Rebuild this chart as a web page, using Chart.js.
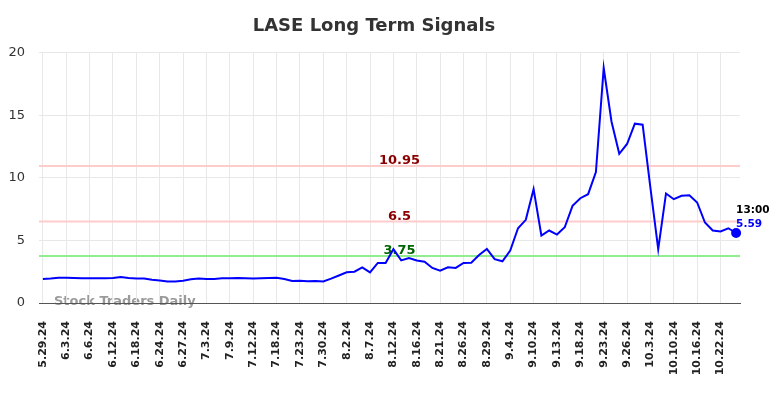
<!DOCTYPE html>
<html>
<head>
<meta charset="utf-8">
<script src="https://cdn.jsdelivr.net/npm/chart.js@4"></script>
<style>
  html, body { margin: 0; padding: 0; background: #fff; }
  #wrap { width: 784px; height: 398px; }
</style>
</head>
<body>
<div id="wrap"><canvas id="signalChart"></canvas></div>
<script>
// trading days, only every third one gets a tick label
const dates = [
    '5.29.24', '5.30.24', '5.31.24', '6.3.24', '6.4.24', '6.5.24', '6.6.24', '6.7.24', '6.10.24',
    '6.12.24', '6.13.24', '6.14.24', '6.18.24', '6.20.24', '6.21.24', '6.24.24', '6.25.24', '6.26.24',
    '6.27.24', '6.28.24', '7.1.24', '7.3.24', '7.5.24', '7.8.24', '7.9.24', '7.10.24', '7.11.24',
    '7.12.24', '7.15.24', '7.16.24', '7.18.24', '7.19.24', '7.22.24', '7.23.24', '7.24.24', '7.26.24',
    '7.30.24', '7.31.24', '8.1.24', '8.2.24', '8.5.24', '8.6.24', '8.7.24', '8.8.24', '8.9.24',
    '8.12.24', '8.13.24', '8.14.24', '8.16.24', '8.19.24', '8.20.24', '8.21.24', '8.22.24', '8.23.24',
    '8.26.24', '8.27.24', '8.28.24', '8.29.24', '8.30.24', '9.3.24', '9.4.24', '9.5.24', '9.6.24',
    '9.10.24', '9.11.24', '9.12.24', '9.13.24', '9.16.24', '9.17.24', '9.18.24', '9.19.24', '9.20.24',
    '9.23.24', '9.24.24', '9.25.24', '9.26.24', '9.27.24', '10.1.24', '10.3.24', '10.4.24', '10.8.24',
    '10.10.24', '10.11.24', '10.14.24', '10.16.24', '10.17.24', '10.18.24', '10.22.24', '10.23.24', '10.24.24'
];

const prices = [
    1.92, 1.95, 2.02, 2.02, 2.00, 1.98, 1.98, 1.97, 1.98,
    2.00, 2.08, 2.00, 1.95, 1.96, 1.85, 1.80, 1.72, 1.72,
    1.78, 1.90, 1.95, 1.92, 1.92, 1.97, 1.97, 2.00, 1.97,
    1.95, 1.97, 2.00, 2.02, 1.92, 1.76, 1.78, 1.74, 1.76,
    1.72, 1.95, 2.20, 2.45, 2.50, 2.85, 2.45, 3.20, 3.20,
    4.30, 3.40, 3.60, 3.40, 3.30, 2.80, 2.58, 2.85, 2.80,
    3.20, 3.22, 3.84, 4.32, 3.50, 3.33, 4.19, 5.97, 6.64,
    9.09, 5.39, 5.79, 5.47, 6.05, 7.76, 8.37, 8.69, 10.45,
    18.77, 14.50, 11.92, 12.70, 14.32, 14.24, 9.20, 4.30, 8.75,
    8.29, 8.56, 8.61, 8.03, 6.43, 5.79, 5.71, 5.97, 5.59
];

const levels = [10.95, 6.5, 3.75];
const levelLineColors = ['#ffcccc', '#ffcccc', '#90ee90'];
const levelTextColors = ['#8b0000', '#8b0000', '#006400'];
const lastTime = '13:00';

Chart.defaults.font.family = "'DejaVu Sans', sans-serif";

const levelsPlugin = {
    id: 'levels',
    beforeDraw(chart) {
        const ctx = chart.ctx;
        const area = chart.chartArea;
        ctx.save();
        ctx.font = 'bold 13px "DejaVu Sans"';
        ctx.fillStyle = 'rgba(120,120,120,0.75)';
        ctx.textBaseline = 'middle';
        ctx.fillText('Stock Traders Daily', area.left + 15, area.bottom - 1);
        ctx.restore();
    },
    beforeDatasetsDraw(chart) {
        const ctx = chart.ctx;
        const area = chart.chartArea;
        const y = chart.scales.y;
        ctx.save();
        levels.forEach((lv, i) => {
            const py = y.getPixelForValue(lv);
            ctx.strokeStyle = levelLineColors[i];
            ctx.lineWidth = 2;
            ctx.beginPath();
            ctx.moveTo(area.left, py);
            ctx.lineTo(area.right, py);
            ctx.stroke();
            ctx.font = 'bold 13px "DejaVu Sans"';
            ctx.fillStyle = levelTextColors[i];
            ctx.textAlign = 'center';
            ctx.textBaseline = 'alphabetic';
            ctx.fillText(String(lv), (area.left + area.right) / 2 + 10, py - 2);
        });
        ctx.restore();
    },
    afterDatasetsDraw(chart) {
        const ctx = chart.ctx;
        const pt = chart.getDatasetMeta(0).data[prices.length - 1];
        ctx.save();
        ctx.textAlign = 'left';
        ctx.textBaseline = 'alphabetic';
        ctx.font = 'bold 10.5px "DejaVu Sans"';
        ctx.fillStyle = '#000';
        ctx.fillText(lastTime, pt.x, pt.y - 20);
        ctx.fillStyle = '#0000ff';
        ctx.fillText(prices[prices.length - 1].toFixed(2), pt.x, pt.y - 6);
        ctx.restore();
    }
};

new Chart(document.getElementById('signalChart'), {
    type: 'line',
    data: {
        labels: dates,
        datasets: [{
            data: prices,
            borderColor: '#0000ff',
            backgroundColor: '#0000ff',
            borderWidth: 2,
            tension: 0,
            pointRadius: ctx => ctx.dataIndex === prices.length - 1 ? 4 : 0,
            pointHoverRadius: 0
        }]
    },
    options: {
        responsive: true,
        maintainAspectRatio: false,
        animation: false,
        layout: { padding: { left: 8, right: 44, top: 0, bottom: 0 } },
        plugins: {
            legend: { display: false },
            tooltip: { enabled: false },
            title: {
                display: true,
                text: 'LASE Long Term Signals',
                color: '#333',
                font: { size: 18, weight: 'bold' },
                padding: { top: 16, bottom: 15 }
            }
        },
        scales: {
            x: {
                offset: true,
                grid: { color: '#e8e8e8', drawTicks: false },
                border: { color: '#555' },
                ticks: {
                    autoSkip: false,
                    minRotation: 90,
                    maxRotation: 90,
                    padding: 18,
                    color: '#222',
                    font: { size: 11, weight: 'bold' },
                    callback: (v, i) => i % 3 === 0 ? dates[i] : null
                },
                afterFit: s => {
                    s.height = 95;
                    s.paddingLeft = 0;
                    s.paddingRight = 0;
                }
            },
            y: {
                min: 0,
                max: 20,
                grid: { color: '#e8e8e8', drawTicks: false },
                border: { display: false },
                ticks: { stepSize: 5, padding: 14, color: '#333', font: { size: 13 } },
                afterFit: s => { s.width = 31; }
            }
        }
    },
    plugins: [levelsPlugin]
});
</script>
</body>
</html>
